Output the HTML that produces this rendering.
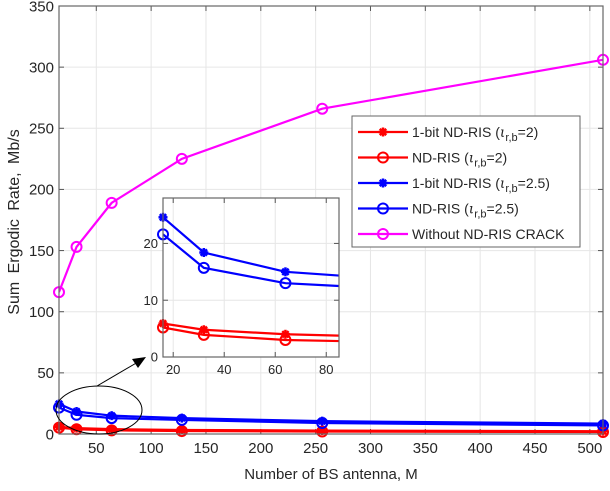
<!DOCTYPE html>
<html><head><meta charset="utf-8"><style>
body{margin:0;background:#fff}
svg text{font-family:"Liberation Sans",sans-serif;fill:#262626}
</style></head><body>
<svg width="610" height="486">
<g id="main"></g>
<g id="inset"></g>
<g id="legend"></g>
</svg>
<script>
const xs=[16,32,64,128,256,512];
const magenta=[116,153,189,225,266,306];
const blueStar=[24.6,18.4,15.0,13.0,10.5,8.5];
const blueCirc=[21.6,15.7,13.0,11.5,9.0,7.0];
const redStar=[5.9,4.8,4.0,3.3,2.8,2.3];
const redCirc=[5.2,3.9,3.0,2.4,2.0,1.6];
const xTicks=[50,100,150,200,250,300,350,400,450,500];
const yTicks=[0,50,100,150,200,250,300,350];
const ixTicks=[20,40,60,80];
const iyTicks=[0,10,20];
const legendLabels=["1-bit ND-RIS (","ND-RIS (","1-bit ND-RIS (","ND-RIS (","Without ND-RIS CRACK"];
const legendVals=["=2)","=2)","=2.5)","=2.5)",""];
const NS="http://www.w3.org/2000/svg";
function mk(p,t,a){const e=document.createElementNS(NS,t);for(const k in a)e.setAttribute(k,a[k]);p.appendChild(e);return e;}
function star(g,x,y,c){for(let i=0;i<4;i++){const a=i*Math.PI/4;mk(g,'line',{x1:x-4.5*Math.cos(a),y1:y-4.5*Math.sin(a),x2:x+4.5*Math.cos(a),y2:y+4.5*Math.sin(a),stroke:c,'stroke-width':2.5});}mk(g,'circle',{cx:x,cy:y,r:2.5,fill:c});}
function circ(g,x,y,c){mk(g,'circle',{cx:x,cy:y,r:5,fill:'none',stroke:c,'stroke-width':2});}
const series=[[redStar,'#ff0000','star'],[redCirc,'#ff0000','circ'],[blueStar,'#0000ff','star'],[blueCirc,'#0000ff','circ'],[magenta,'#ff00ff','circ']];
function drawAxes(g,L,T,R,B,x0,x1,y0,y1,xt,yt,fs,clipId){
 const X=v=>L+(v-x0)/(x1-x0)*(R-L), Y=v=>B-(v-y0)/(y1-y0)*(B-T);
 mk(g,'rect',{x:L,y:T,width:R-L,height:B-T,fill:'#fff'});
 xt.forEach(v=>{const l=mk(g,'line',{x1:X(v),x2:X(v),y1:T,y2:B,stroke:'#e6e6e6'});
  mk(g,'line',{x1:X(v),x2:X(v),y1:B,y2:B-5,stroke:'#555'});mk(g,'line',{x1:X(v),x2:X(v),y1:T,y2:T+5,stroke:'#555'});
  const t=mk(g,'text',{x:X(v),y:B+fs+4,'font-size':fs,'text-anchor':'middle'});t.textContent=v;});
 yt.forEach(v=>{const l=mk(g,'line',{x1:L,x2:R,y1:Y(v),y2:Y(v),stroke:'#e6e6e6'});
  mk(g,'line',{x1:L,x2:L+5,y1:Y(v),y2:Y(v),stroke:'#555'});mk(g,'line',{x1:R,x2:R-5,y1:Y(v),y2:Y(v),stroke:'#555'});
  const t=mk(g,'text',{x:L-5,y:Y(v)+fs*0.35,'font-size':fs,'text-anchor':'end'});t.textContent=v;});
 const cp=mk(g,'clipPath',{id:clipId});mk(cp,'rect',{x:L,y:T,width:R-L,height:B-T});
 const sg=mk(g,'g',{'clip-path':'url(#'+clipId+')'});
 series.forEach(([d,c,m],si)=>{const pts=xs.map((x,i)=>X(x)+','+Y(d[i])).join(' ');
  const pl=mk(sg,'polyline',{points:pts,fill:'none',stroke:c,'stroke-width':2.2});
 });
 const mg=mk(g,'g',{});
 series.forEach(([d,c,m])=>xs.forEach((x,i)=>{if(x<x0||x>x1+1)return;m=='star'?star(mg,X(x),Y(d[i]),c):circ(mg,X(x),Y(d[i]),c);}));
 mk(g,'rect',{x:L,y:T,width:R-L,height:B-T,fill:'none',stroke:'#666','stroke-width':1.2});
 return [X,Y];
}
const main=document.getElementById('main');
drawAxes(main,59,6,603,434,16,512,0,350,xTicks,yTicks,15,'cm');
let t=mk(main,'text',{x:331,y:479,'font-size':15,'text-anchor':'middle'});t.textContent='Number of BS antenna, M';

t=mk(main,'text',{x:0,y:0,'font-size':16,'text-anchor':'middle','word-spacing':4,transform:'translate(19,222) rotate(-90)'});t.textContent='Sum Ergodic Rate, Mb/s';

const el=mk(main,'ellipse',{cx:99,cy:410,rx:43,ry:24,fill:'none',stroke:'#000','stroke-width':1});

mk(main,'line',{x1:97,y1:386,x2:138,y2:362,stroke:'#000','stroke-width':1});
mk(main,'polygon',{points:'146,357 132,359 138,368',fill:'#000'});
const inset=document.getElementById('inset');

drawAxes(inset,163,198,339,357,16,85,0,28,ixTicks,iyTicks,13,'ci');
const lg=document.getElementById('legend');
mk(lg,'rect',{x:352,y:116,width:228,height:131,fill:'#fff',stroke:'#666'});
series.forEach(([d,c,m],i)=>{const y=132+i*25.5;
 mk(lg,'line',{x1:358,x2:408,y1:y,y2:y,stroke:c,'stroke-width':2.2});
 m=='star'?star(lg,383,y,c):circ(lg,383,y,c);
 const tx=mk(lg,'text',{x:412,y:y+5,'font-size':14});
 
 tx.appendChild(document.createTextNode(legendLabels[i]));
 if(legendVals[i]){const a=mk(tx,'tspan',{'font-style':'italic','font-family':'DejaVu Serif, serif'});a.textContent='ι';
  const b=mk(tx,'tspan',{dy:4,'font-size':11});b.textContent='r,b';
  const c2=mk(tx,'tspan',{dy:-4});c2.textContent=legendVals[i];}
});
</script>
</body></html>
